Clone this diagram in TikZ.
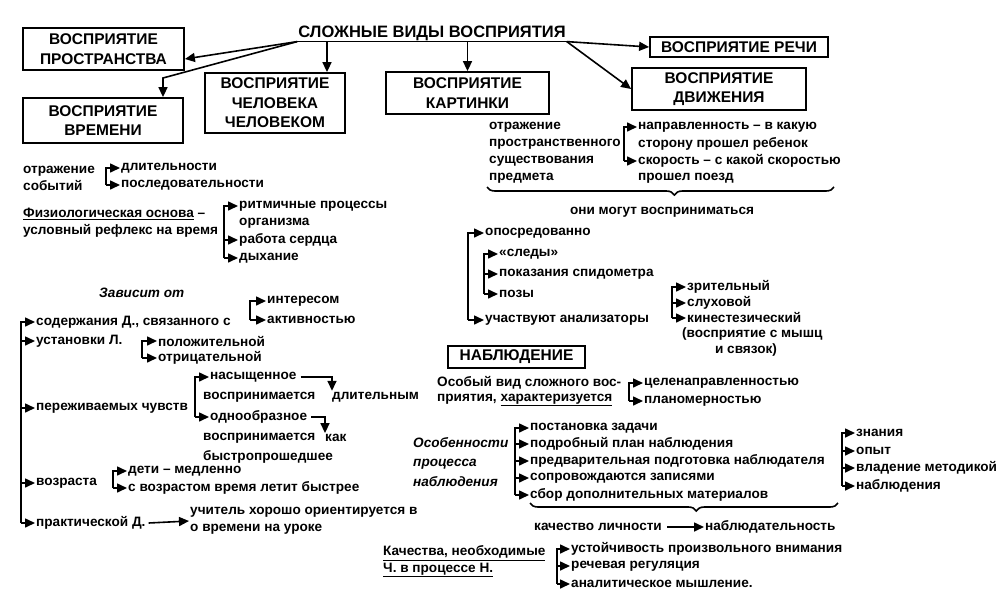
\documentclass[tikz,border=0pt]{standalone}
\usepackage{fontspec}
\setmainfont{Liberation Sans}
\usetikzlibrary{arrows.meta,decorations.pathreplacing}
\begin{document}
\begin{tikzpicture}[x=1pt,y=-1pt,
  ln/.style={line width=1.7pt},
  arr/.style={line width=1.6pt,-{Triangle[length=10pt,width=9pt]}},
  txt/.style={font=\bfseries\fontsize{13.6}{17}\selectfont, anchor=west, inner sep=1pt},
  itx/.style={font=\bfseries\itshape\fontsize{13.6}{19.5}\selectfont, anchor=west, inner sep=1pt, align=left},
  bx/.style={draw, line width=1.8pt, font=\bfseries\fontsize{15.5}{19.5}\selectfont, align=center, inner sep=0pt},
  brc/.style={decorate, decoration={brace, mirror, amplitude=8pt, aspect=0.54}, line width=1.6pt}]
\useasboundingbox (0,0) rectangle (1005,595);

% ---------- title and boxes ----------
\node[font=\bfseries\fontsize{16.5}{19}\selectfont, inner sep=1pt] (t) at (432,33) {СЛОЖНЫЕ ВИДЫ ВОСПРИЯТИЯ};
\draw[ln] (t.south west) -- (t.south east);
\node[bx, minimum width=161, minimum height=42] (b1) at (103.5,49) {ВОСПРИЯТИЕ\\ПРОСТРАНСТВА};
\node[bx, minimum width=160, minimum height=45] (b2) at (103,120.5) {ВОСПРИЯТИЕ\\ВРЕМЕНИ};
\node[bx, minimum width=140, minimum height=60] (b3) at (275,103) {ВОСПРИЯТИЕ\\ЧЕЛОВЕКА\\ЧЕЛОВЕКОМ};
\node[bx, minimum width=163, minimum height=42] (b4) at (467.5,93) {ВОСПРИЯТИЕ\\КАРТИНКИ};
\node[bx, minimum width=178, minimum height=20] (b5) at (739,47) {ВОСПРИЯТИЕ РЕЧИ};
\node[bx, minimum width=174, minimum height=42] (b6) at (719,89) {ВОСПРИЯТИЕ\\ДВИЖЕНИЯ};
\coordinate (k2) at (163,78);
\coordinate (k3) at (327,0);
\draw[arr] (t.south west) -- ([yshift=-10pt]b1.east);
\draw[arr] (t.south west) -- (k2) -- (k2 |- b2.north);
\draw[arr] (t.south west -| k3) -- (k3 |- b3.north);
\draw[arr] (b4.north |- t.south) -- (b4.north);
\draw[arr] (t.south east) -- (b5.west);
\draw[arr] (t.south east) -- (b6.west);

% ---------- time ----------
\node[txt, align=left] (otr) at (22,178) {отражение\\событий};
\node[txt] (d1) at (120,168) {длительности};
\node[txt] (d2) at (120,185) {последовательности};
\coordinate (xa) at (106,0);
\draw[arr] (d2.west -| xa) |- (d1.west);
\draw[arr] (d2.west -| xa) -- (d2.west);

\node[txt] (fz1) at (22,214) {\underline{Физиологическая основа} –};
\node[txt] (fz2) at (22,231) {условный рефлекс на время};
\node[txt] (r1) at (238,206) {ритмичные процессы};
\node[txt] (r1b) at (238,223) {организма};
\node[txt] (r2) at (238,240) {работа сердца};
\node[txt] (r3) at (238,258) {дыхание};
\coordinate (xb) at (224,0);
\draw[arr] (r3.west -| xb) |- (r1.west);
\draw[arr] (r2.west -| xb) -- (r2.west);
\draw[arr] (r3.west -| xb) -- (r3.west);

\node[itx] (zav) at (98,293) {Зависит от};

\node[txt] (s1) at (35,322) {содержания Д., связанного с};
\node[txt] (s2) at (35,341) {установки Л.};
\node[txt] (s3) at (35,408) {переживаемых чувств};
\node[txt] (s4) at (35,483) {возраста};
\node[txt] (s5) at (35,523) {практической Д.};
\coordinate (xs) at (21,0);
\draw[arr] (s5.west -| xs) |- (s1.west);
\foreach \n in {s2,s3,s4,s5} \draw[arr] (\n.west -| xs) -- (\n.west);

\node[txt] (i1) at (266,301) {интересом};
\node[txt] (i2) at (266,320) {активностью};
\coordinate (xi) at (250,0);
\draw[arr] (i2.west -| xi) |- (i1.west);
\draw[arr] (i2.west -| xi) -- (i2.west);

\node[txt] (p1) at (157,341) {положительной};
\node[txt] (p2) at (157,358) {отрицательной};
\coordinate (xp) at (142,0);
\draw[arr] (p2.west -| xp) |- (p1.west);
\draw[arr] (p2.west -| xp) -- (p2.west);

\node[txt] (n1) at (209,377) {насыщенное};
\node[txt] (v1a) at (202,397) {воспринимается};
\node[txt] (v1b) at (331,397) {длительным};
\node[txt] (n2) at (209,417) {однообразное};
\node[txt] (v2a) at (202,438) {воспринимается};
\node[txt] (v2b) at (324,438) {как};
\node[txt] (v2c) at (202,457) {быстропрошедшее};
\coordinate (xn) at (195,0);
\draw[arr] (n2.west -| xn) |- (n1.west);
\draw[arr] (n2.west -| xn) -- (n2.west);
\draw[arr] ([xshift=3pt]n1.east) -| ([xshift=1pt]v1b.north west);
\draw[arr] ([xshift=3pt]n2.east) -| ([xshift=1pt]v2b.north west);

\node[txt] (a1) at (127,471) {дети – медленно};
\node[txt] (a2) at (127,488) {с возрастом время летит быстрее};
\coordinate (xv) at (113,0);
\draw[arr] (a2.west -| xv) |- (a1.west);
\draw[arr] (a2.west -| xv) -- (a2.west);

\node[txt, align=left] (u) at (189,521) {учитель хорошо ориентируется в\\о времени на уроке};
\draw[arr] ([xshift=2pt]s5.east) -- (u.west);

% ---------- picture / movement ----------
\node[txt, align=left] (ot) at (488,152.5) {отражение\\пространственного\\существования\\предмета};
\node[txt] (m1a) at (637,127) {направленность – в какую};
\node[txt] (m1b) at (637,144) {сторону прошел ребенок};
\node[txt] (m2a) at (637,161) {скорость – с какой скоростью};
\node[txt] (m2b) at (637,178) {прошел поезд};
\coordinate (xm) at (624,0);
\draw[arr] (m2a.west -| xm) |- (m1a.west);
\draw[arr] (m2a.west -| xm) -- (m2a.west);
\draw[brc] (487,187) -- (834,187);
\node[txt, anchor=center] (mog) at (662,212) {они могут восприниматься};

\node[txt] (o1) at (484,233) {опосредованно};
\node[txt] (sl1) at (498,254) {«следы»};
\node[txt] (sl2) at (498,274) {показания спидометра};
\node[txt] (sl3) at (498,294) {позы};
\node[txt] (o5) at (484,320) {участвуют анализаторы};
\coordinate (xo) at (468,0);
\draw[arr] (o5.west -| xo) |- (o1.west);
\draw[arr] (o5.west -| xo) -- (o5.west);
\coordinate (xq) at (484,0);
\draw[arr] (sl3.west -| xq) |- (sl1.west);
\draw[arr] (sl2.west -| xq) -- (sl2.west);
\draw[arr] (sl3.west -| xq) -- (sl3.west);

\node[txt] (z1) at (686,287) {зрительный};
\node[txt] (z2) at (686,303) {слуховой};
\node[txt] (z3) at (686,318) {кинестезический};
\node[txt] (z4) at (681,334) {(восприятие с мышц};
\node[txt, anchor=center] (z5) at (746,350) {и связок)};
\coordinate (xz) at (672,0);
\draw[arr] (z3.west -| xz) |- (z1.west);
\draw[arr] (z2.west -| xz) -- (z2.west);
\draw[arr] (z3.west -| xz) -- (z3.west);

% ---------- observation ----------
\node[bx, minimum width=137, minimum height=22] (nab) at (516.5,357) {НАБЛЮДЕНИЕ};
\node[txt] (ob1) at (436,383) {Особый вид сложного вос-};
\node[txt] (ob2) at (436,400) {приятия, \underline{характеризуется}};
\node[txt] (c1) at (643,383) {целенаправленностью};
\node[txt] (c2) at (643,401) {планомерностью};
\coordinate (xc) at (629,0);
\draw[arr] (c2.west -| xc) |- (c1.west);
\draw[arr] (c2.west -| xc) -- (c2.west);

\node[itx] (osb) at (412,462) {Особенности\\процесса\\наблюдения};
\node[txt] (e1) at (529,428) {постановка задачи};
\node[txt] (e2) at (529,444) {подробный план наблюдения};
\node[txt] (e3) at (529,461) {предварительная подготовка наблюдателя};
\node[txt] (e4) at (529,478) {сопровождаются записями};
\node[txt] (e5) at (529,495) {сбор дополнительных материалов};
\coordinate (xe) at (515,0);
\draw[arr] (e5.west -| xe) |- (e1.west);
\foreach \n in {e2,e3,e4,e5} \draw[arr] (\n.west -| xe) -- (\n.west);

\node[txt] (k1) at (855,433) {знания};
\node[txt] (k2n) at (855,451) {опыт};
\node[txt] (k3n) at (855,468) {владение методикой};
\node[txt] (k4) at (855,486) {наблюдения};
\coordinate (xk) at (842,0);
\draw[arr] (k4.west -| xk) |- (k1.west);
\foreach \n in {k2n,k3n,k4} \draw[arr] (\n.west -| xk) -- (\n.west);

\draw[brc] (530,503) -- (838,503);
\node[txt] (q1) at (533,527) {качество личности};
\node[txt] (q2) at (704,527) {наблюдательность};
\draw[arr] ([xshift=4pt]q1.east) -- (q2.west);

\node[txt] (kc1) at (382,553) {\underline{Качества, необходимые}};
\node[txt] (kc2) at (382,570) {\underline{Ч. в процессе Н.}};
\node[txt] (w1) at (570,549) {устойчивость произвольного внимания};
\node[txt] (w2) at (570,566) {речевая регуляция};
\node[txt] (w3) at (570,584) {аналитическое мышление.};
\coordinate (xw) at (557,0);
\draw[arr] (w3.west -| xw) |- (w1.west);
\draw[arr] (w2.west -| xw) -- (w2.west);
\draw[arr] (w3.west -| xw) -- (w3.west);
\end{tikzpicture}
\end{document}
